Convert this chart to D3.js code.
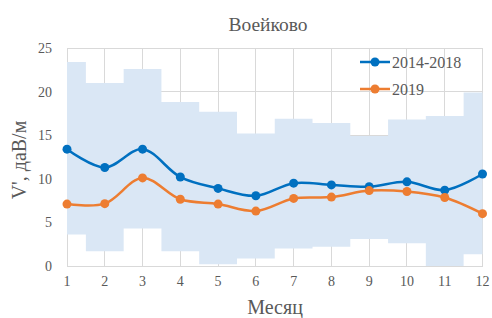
<!DOCTYPE html>
<html><head><meta charset="utf-8">
<script src="https://cdn.jsdelivr.net/npm/d3@7"></script>
<style>html,body{margin:0;padding:0;background:#fff}</style>
</head><body>
<svg id="c" width="492" height="318"></svg>
<script>
const months = [1,2,3,4,5,6,7,8,9,10,11,12];
const bandUpper = [23.4,21.0,22.6,18.8,17.7,15.2,16.9,16.4,14.9,16.8,17.2,19.9];
const bandLower = [3.6,1.7,4.3,1.7,0.2,0.85,2.0,2.2,3.1,2.6,0.0,1.35];
const mean1418 = [13.4,11.3,13.4,10.2,8.9,8.05,9.5,9.3,9.1,9.65,8.7,10.55];
const y2019 = [7.1,7.15,10.1,7.65,7.1,6.3,7.75,7.9,8.65,8.55,7.85,6.0];
const yTicks = [0,5,10,15,20,25];
const seriesNames = ["2014-2018","2019"];
const colors = ["#0070c0","#ed7d31"];

const svg = d3.select("#c");
const x = d3.scaleLinear().domain([1,12]).range([67,482.5]);
const y = d3.scaleLinear().domain([0,25]).range([266,48]);
const font = "'Liberation Serif','Times New Roman',serif";

// grid
svg.append("g").selectAll("line").data(yTicks).join("line")
  .attr("x1",x(1)).attr("x2",x(12)).attr("y1",d=>y(d)).attr("y2",d=>y(d))
  .attr("stroke","#d9d9d9").attr("stroke-width",1).attr("shape-rendering","crispEdges");
svg.append("g").selectAll("line").data(months).join("line")
  .attr("x1",d=>x(d)).attr("x2",d=>x(d)).attr("y1",y(0)).attr("y2",y(25))
  .attr("stroke","#d9d9d9").attr("stroke-width",1).attr("shape-rendering","crispEdges");

// band (step)
const bandPts = [];
months.forEach((m,i)=>{
  bandPts.push({x:Math.max(1,m-0.5),lo:bandLower[i],hi:bandUpper[i]});
  bandPts.push({x:Math.min(12,m+0.5),lo:bandLower[i],hi:bandUpper[i]});
});
svg.append("path").datum(bandPts)
  .attr("d",d3.area().x(d=>x(d.x)).y0(d=>y(d.lo)).y1(d=>y(d.hi)))
  .attr("fill","#dae7f5");

// lines
const line = d3.line().x((d,i)=>x(months[i])).y(d=>y(d)).curve(d3.curveCatmullRom.alpha(0.5));
[mean1418,y2019].forEach((s,k)=>{
  svg.append("path").datum(s).attr("d",line).attr("fill","none")
    .attr("stroke",colors[k]).attr("stroke-width",2.5);
  svg.append("g").selectAll("circle").data(s).join("circle")
    .attr("cx",(d,i)=>x(months[i])).attr("cy",d=>y(d)).attr("r",4.5).attr("fill",colors[k]);
});

// axes labels
svg.append("g").selectAll("text").data(yTicks).join("text")
  .attr("x",52).attr("y",d=>y(d)+5).attr("text-anchor","end")
  .attr("font-family",font).attr("font-size",14).attr("fill","#595959").text(d=>d);
svg.append("g").selectAll("text").data(months).join("text")
  .attr("x",d=>x(d)).attr("y",286).attr("text-anchor","middle")
  .attr("font-family",font).attr("font-size",14).attr("fill","#595959").text(d=>d);

svg.append("text").attr("x",268).attr("y",31).attr("text-anchor","middle")
  .attr("font-family",font).attr("font-size",19.5).attr("fill","#595959").text("Воейково");
svg.append("text").attr("x",275).attr("y",314).attr("text-anchor","middle")
  .attr("font-family",font).attr("font-size",20).attr("fill","#595959").text("Месяц");
svg.append("text").attr("transform","translate(26,160) rotate(-90)").attr("text-anchor","middle")
  .attr("font-family",font).attr("font-size",20).attr("fill","#595959").text("V', даВ/м");

// legend
seriesNames.forEach((n,k)=>{
  const ly = 62 + k*27;
  svg.append("line").attr("x1",360).attr("x2",390).attr("y1",ly).attr("y2",ly)
    .attr("stroke",colors[k]).attr("stroke-width",2.5);
  svg.append("circle").attr("cx",375).attr("cy",ly).attr("r",4.5).attr("fill",colors[k]);
  svg.append("text").attr("x",392).attr("y",ly+5.5).attr("font-family",font)
    .attr("font-size",16).attr("fill","#595959").text(n);
});
</script>
</body></html>
